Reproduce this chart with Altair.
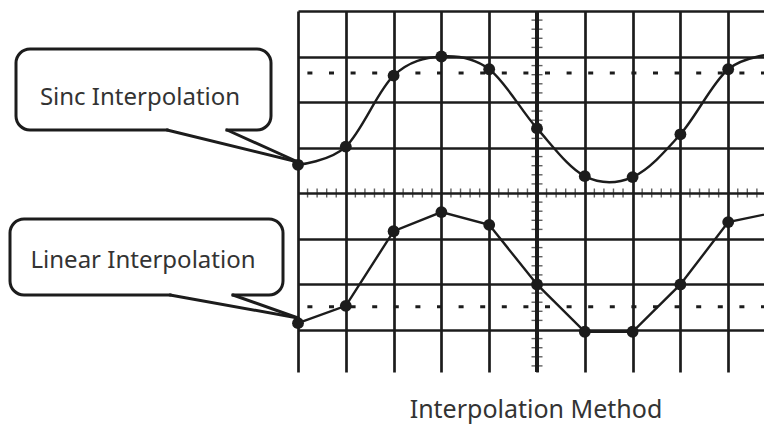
import altair as alt
import pandas as pd

# ---- data ----
sample_index = list(range(11))
sinc_values = [0.62, 1.02, 2.58, 3.00, 2.72, 1.42, 0.37, 0.35, 1.29, 2.72, 3.06]
linear_values = [-2.86, -2.48, -0.84, -0.42, -0.70, -2.01, -3.05, -3.05, -2.01, -0.64, -0.42]
dashed_levels = [2.64, -2.50]
grid_x = list(range(10))
grid_y = [-3, -2, -1, 0, 1, 2, 3, 4]
box_labels = ["Sinc Interpolation", "Linear Interpolation"]
axis_title = "Interpolation Method"

W, H = 466, 361
X_DOMAIN = [0, W / 47.8]
Y_DOMAIN = [-3.934, 4]
INK = "#1c1c1c"
TXT = "#333333"
FONT = "Noto Sans"

xs = alt.Scale(domain=X_DOMAIN, nice=False, zero=False)
ys = alt.Scale(domain=Y_DOMAIN, nice=False, zero=False)

df = pd.DataFrame({"idx": sample_index, "sinc": sinc_values, "linear": linear_values})
hticks = pd.DataFrame({"tx": [k / 5 for k in range(1, 50) if k % 5]})
vticks = pd.DataFrame({"ty": [k / 5 for k in range(-19, 20) if k % 5]})
dashes = pd.DataFrame({"level": dashed_levels})
one = pd.DataFrame({"_": [0]})

ax_x = alt.Axis(values=grid_x, grid=True, gridColor=INK, gridWidth=2.7, gridOpacity=1,
                labels=False, ticks=False, domain=False, title=None)
ax_y = alt.Axis(values=grid_y, grid=True, gridColor=INK, gridWidth=2.7, gridOpacity=1,
                labels=False, ticks=False, domain=False, title=None)

sinc_line = alt.Chart(df).mark_line(interpolate="cardinal", color=INK, strokeWidth=2.4).encode(
    x=alt.X("idx:Q", scale=xs, axis=ax_x),
    y=alt.Y("sinc:Q", scale=ys, axis=ax_y),
)
lin_line = alt.Chart(df).mark_line(color=INK, strokeWidth=2.4).encode(
    x=alt.X("idx:Q", scale=xs), y=alt.Y("linear:Q", scale=ys)
)
sinc_pts = alt.Chart(df).mark_circle(color=INK, size=140, opacity=1).encode(
    x=alt.X("idx:Q", scale=xs), y=alt.Y("sinc:Q", scale=ys)
)
lin_pts = alt.Chart(df).mark_circle(color=INK, size=140, opacity=1).encode(
    x=alt.X("idx:Q", scale=xs), y=alt.Y("linear:Q", scale=ys)
)

center_v = alt.Chart(one).mark_rule(color=INK, strokeWidth=4).encode(x=alt.datum(5))
htick_layer = alt.Chart(hticks).mark_tick(orient="vertical", size=9, thickness=1.4, color=INK).encode(
    x=alt.X("tx:Q", scale=xs), y=alt.datum(0)
)
vtick_layer = alt.Chart(vticks).mark_tick(orient="horizontal", size=11, thickness=1.4, color=INK).encode(
    y=alt.Y("ty:Q", scale=ys), x=alt.datum(5)
)
dash_layer = alt.Chart(dashes).mark_rule(color=INK, strokeWidth=3, strokeDash=[5, 16.6],
                                         strokeDashOffset=2).encode(y=alt.Y("level:Q", scale=ys))


def callout(x0, x1, y0, y1, r0, r1, tip_y, label, tx, ty):
    box = alt.Chart(one).mark_rect(fill="white", stroke=INK, strokeWidth=3, cornerRadius=14).encode(
        x=alt.value(x0), x2=alt.value(x1), y=alt.value(y0), y2=alt.value(y1))
    erase = alt.Chart(one).mark_rule(color="white", strokeWidth=4.5).encode(
        x=alt.value(r0 + 1.5), x2=alt.value(r1 - 1.5), y=alt.value(y1), y2=alt.value(y1))
    e1 = alt.Chart(one).mark_rule(color=INK, strokeWidth=3, strokeCap="round").encode(
        x=alt.value(r0), x2=alt.value(0), y=alt.value(y1), y2=alt.value(tip_y))
    e2 = alt.Chart(one).mark_rule(color=INK, strokeWidth=3, strokeCap="round").encode(
        x=alt.value(r1), x2=alt.value(0), y=alt.value(y1), y2=alt.value(tip_y))
    txt = alt.Chart(one).mark_text(font=FONT, fontSize=24, color=TXT, align="center",
                                   baseline="alphabetic").encode(
        x=alt.value(tx), y=alt.value(ty), text=alt.value(label))
    return [box, erase, e1, e2, txt]


sinc_call = callout(-282, -27, 38, 119, -131, -71, 151, box_labels[0], -158, 94)
lin_call = callout(-288, -15, 208, 284, -128, -65, 307, box_labels[1], -155, 257)

title = alt.Chart(one).mark_text(font=FONT, fontSize=25, color=TXT, align="center",
                                 baseline="alphabetic").encode(
    x=alt.value(238), y=alt.value(407), text=alt.value(axis_title))

chart = alt.layer(
    sinc_line, center_v, htick_layer, vtick_layer, dash_layer, lin_line, sinc_pts, lin_pts,
    *sinc_call, *lin_call, title
).properties(
    width=W, height=H,
    padding={"left": 290, "top": 3, "right": 0, "bottom": 53},
    autosize=alt.AutoSizeParams(type="none"),
).configure_view(stroke=None)

chart.save("out.html", embed_options={"renderer": "svg", "actions": False})
